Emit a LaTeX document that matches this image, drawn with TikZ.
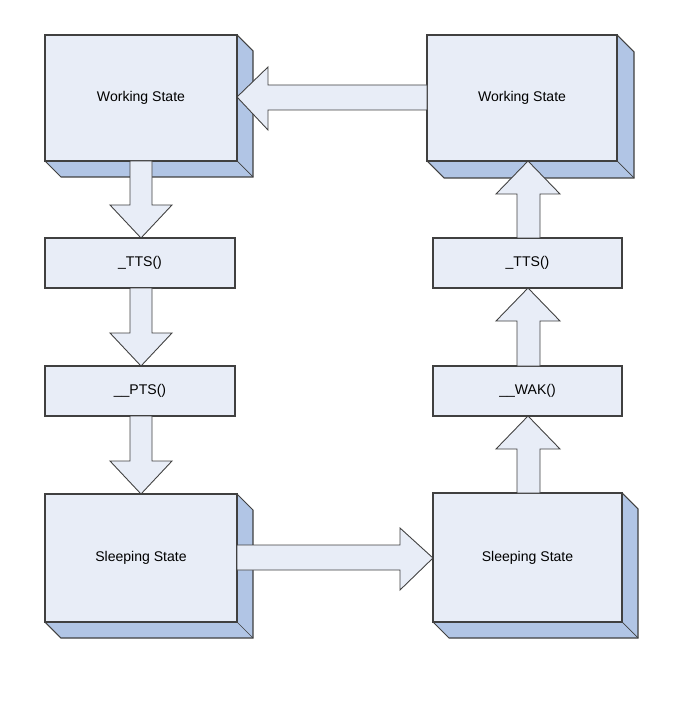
\documentclass[tikz,border=0pt]{standalone}
\usepackage{fontspec}
\setmainfont{Liberation Sans}
\begin{document}
\begin{tikzpicture}[x=0.02cm,y=-0.02cm,
  face/.style={fill=faceC,draw=lineC,line width=0.6pt},
  arr/.style={fill=faceC,draw=lineC,line width=0.5pt},
  lbl/.style={font=\fontsize{8}{10}\selectfont}]
\definecolor{faceC}{HTML}{E8EDF7}
\definecolor{sideC}{HTML}{B1C5E5}
\definecolor{lineC}{HTML}{404040}
\useasboundingbox (0,0) rectangle (675,702);
\newcommand{\mybox}[7]{% x1 y1 x2 y2 depth name label
  \fill[sideC] (#3,#2) -- (#3+#5,#2+#5) -- (#3+#5,#4+#5) -- (#1+#5,#4+#5) -- (#1,#4) -- cycle;
  \draw[lineC,line width=0.6pt] (#3,#2) -- (#3+#5,#2+#5) -- (#3+#5,#4+#5) -- (#1+#5,#4+#5) -- (#1,#4);
  \draw[lineC,line width=0.4pt] (#3,#4) -- (#3+#5,#4+#5);
  \draw[face] (#1,#2) rectangle (#3,#4);
  \node[lbl] (#6) at ({(#1+#3)/2},{(#2+#4)/2}) {#7};}
\mybox{45}{35}{237}{161}{16}{w1}{Working State}
\mybox{427}{35}{617}{161}{17}{w2}{Working State}
\mybox{45}{494}{237}{622}{16}{s1}{Sleeping State}
\mybox{433}{493}{622}{622}{16}{s2}{Sleeping State}
\mybox{45}{238}{235}{288}{0}{t1}{\_TTS()}
\mybox{45}{366}{235}{416}{0}{p1}{\_\_PTS()}
\mybox{433}{238}{622}{288}{0}{t2}{\_TTS()}
\mybox{433}{366}{622}{416}{0}{k2}{\_\_WAK()}
% arrows
\draw[arr] (427,85) -- (268,85) -- (268,67) -- (237,97) -- (268,130) -- (268,110) -- (427,110) -- cycle;
\draw[arr] (237,545) -- (400,545) -- (400,528) -- (433,558) -- (400,590) -- (400,570) -- (237,570) -- cycle;
\foreach \a/\b in {161/238, 288/366, 416/494}{
  \draw[arr] (130,\a) -- (152,\a) -- (152,\b-33) -- (172,\b-33) -- (141,\b) -- (110,\b-33) -- (130,\b-33) -- cycle;}
\foreach \a/\b in {161/238, 288/366, 416/493}{
  \draw[arr] (517,\b) -- (540,\b) -- (540,\a+33) -- (560,\a+33) -- (528,\a) -- (496,\a+33) -- (517,\a+33) -- cycle;}
\end{tikzpicture}
\end{document}
